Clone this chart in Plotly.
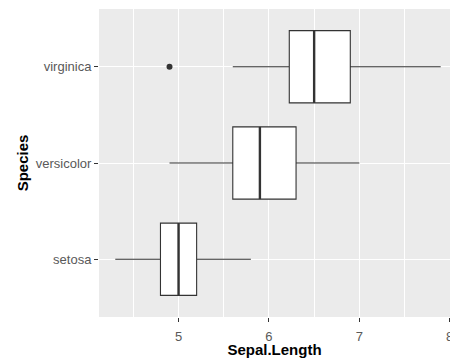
import plotly.graph_objects as go

# Sepal.Length summary by species (iris)
species = ["setosa", "versicolor", "virginica"]
lower_whisker = [4.3, 4.9, 5.6]
q1 = [4.8, 5.6, 6.225]
median = [5.0, 5.9, 6.5]
q3 = [5.2, 6.3, 6.9]
upper_whisker = [5.8, 7.0, 7.9]
outlier_species = ["virginica"]
outlier_values = [4.9]

x_ticks = [5, 6, 7, 8]
x_minor = [4.5, 5.5, 6.5, 7.5]

pos = {s: i + 1 for i, s in enumerate(species)}
ypos = [pos[s] for s in species]
box_w = 0.75
ink = "#333333"
label_grey = "#595959"

fig = go.Figure()

fig.add_trace(go.Box(
    y=ypos, q1=q1, median=median, q3=q3,
    lowerfence=lower_whisker, upperfence=upper_whisker,
    orientation="h", width=box_w, boxpoints=False,
    fillcolor="white", line=dict(color=ink, width=1.1),
    whiskerwidth=0, showlegend=False, hoverinfo="skip",
))

# thicker median bars drawn over the boxes
mx, my = [], []
for y, m in zip(ypos, median):
    mx += [m, m, None]
    my += [y - box_w / 2, y + box_w / 2, None]
fig.add_trace(go.Scatter(
    x=mx, y=my, mode="lines", line=dict(color=ink, width=2.4),
    showlegend=False, hoverinfo="skip",
))

fig.add_trace(go.Scatter(
    x=outlier_values, y=[pos[s] for s in outlier_species], mode="markers",
    marker=dict(color=ink, size=6), showlegend=False, hoverinfo="skip",
))

fig.update_layout(
    width=450, height=358,
    margin=dict(l=99, r=0, t=9, b=41, pad=0),
    paper_bgcolor="white", plot_bgcolor="#EBEBEB",
    font=dict(family="Liberation Sans, Arial, sans-serif"),
)

title_font = dict(size=15, color="black", family="Liberation Sans, Arial, sans-serif", weight="bold")

fig.update_xaxes(
    automargin=False,
    range=[4.12, 8.003], tickvals=x_ticks, ticktext=[str(t) for t in x_ticks],
    showgrid=True, gridcolor="white", gridwidth=1.1,
    minor=dict(tickvals=x_minor, showgrid=True, gridcolor="white", gridwidth=0.55, ticks=""),
    ticks="outside", ticklen=4, tickwidth=1.1, tickcolor=ink,
    tickfont=dict(size=13, color=label_grey), ticklabelstandoff=3,
    ticklabeloverflow="allow",
    zeroline=False, showline=False,
    title=dict(text="Sepal.Length", font=title_font),
)

fig.update_yaxes(
    automargin=True,
    range=[0.4, 3.6], tickvals=ypos, ticktext=species,
    showgrid=True, gridcolor="white", gridwidth=1.1,
    ticks="outside", ticklen=4, tickwidth=1.1, tickcolor=ink,
    tickfont=dict(size=13, color=label_grey),
    zeroline=False, showline=False,
    title=dict(text="Species", font=title_font, standoff=3),
)

fig.write_html("out.html")
